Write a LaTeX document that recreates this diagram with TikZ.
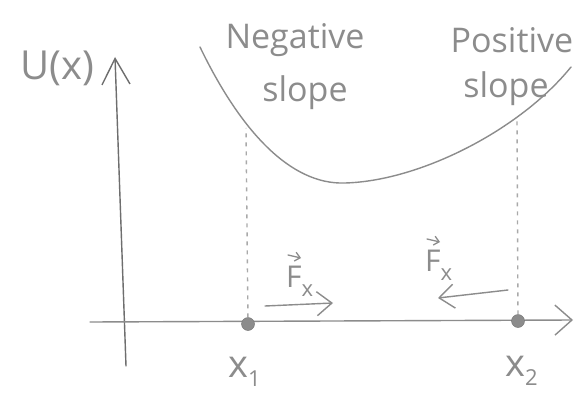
\documentclass[tikz,border=0pt]{standalone}
\usepackage{fontspec}
\setmainfont{Open Sans}
\usetikzlibrary{arrows.meta}
\definecolor{pen}{HTML}{8C8C8C}
\definecolor{pendark}{HTML}{6E6E6E}
\tikzset{
  hand/.style={draw=pen, line width=1.4pt, line cap=round},
  axisline/.style={draw=pendark, line width=1.4pt, line cap=round},
  guide/.style={draw=pen!75, line width=1.4pt, dash pattern=on 4pt off 5pt},
  lbl/.style={text=pen, font=\fontsize{34}{38}\selectfont, inner sep=0pt},
  dotnode/.style={circle, fill=pen, draw=pen!80!black, minimum size=13pt, inner sep=0pt},
  ytip/.style={-{Straight Barb[length=26pt, width=28pt, line width=1.4pt]}},
  xtip/.style={-{Straight Barb[length=17pt, width=30pt, line width=1.4pt]}},
  ftip/.style={-{Straight Barb[length=15pt, width=24pt, line width=1.4pt]}},
  vtip/.style={draw=pen, line width=1.3pt, line cap=round, -{Straight Barb[length=5pt, width=9pt, line width=1.3pt]}}
}
\newcommand{\subtxt}[1]{\raisebox{-9pt}{\fontsize{22}{22}\selectfont #1}}
\begin{document}
\begin{tikzpicture}[x=1pt,y=-1pt]
\useasboundingbox (0,0) rectangle (586,393);
\fill[white] (0,0) rectangle (586,393);
% axes
\coordinate (ybot) at (126,366);
\coordinate (ytop) at (115,57);
\coordinate (xleft) at (90,322);
\coordinate (xright) at (573,320);
\draw[axisline, ytip] (ybot) -- (ytop);
\draw[hand, xtip] (xleft) -- (xright);
% dots
\node[dotnode] (d1) at (248,324) {};
\node[dotnode] (d2) at (518,321) {};
% curve
\coordinate (cs) at (200,47);
\coordinate (cm) at (345,183);
\coordinate (ce) at (571,67);
\coordinate (c1) at (246,128);
\coordinate (c2) at (517,117);
\draw[hand] (cs) .. controls (240,130) and (290,185) .. (cm)
                 .. controls (420,181) and (520,130) .. (ce);
% guides
\draw[guide] (d1) -- (c1);
\draw[guide] (d2) -- (c2);
% labels
\node[lbl, font=\fontsize{40}{44}\selectfont] (U) at (57,68) {U(x)};
\node[lbl] (neg) at (295,40) {Negative};
\node[lbl] (negs) at (305,93) {slope};
\node[lbl] (pos) at (512,40) {Positive};
\node[lbl] (poss) at (506,89) {slope};
\node[lbl, font=\fontsize{38}{40}\selectfont, anchor=base west] (x1) at (228,377) {x\subtxt{1}};
\node[lbl, font=\fontsize{38}{40}\selectfont, anchor=base west] (x2) at (505,376) {x\subtxt{2}};
\node[lbl, font=\fontsize{30}{32}\selectfont, anchor=base west] (F1) at (286,287) {F\subtxt{x}};
\node[lbl, font=\fontsize{30}{32}\selectfont, anchor=base west] (F2) at (425,271) {F\subtxt{x}};
% vector arrows over F
\coordinate (v1s) at (288,255);
\coordinate (v1e) at (301,258);
\coordinate (v2s) at (427,239);
\coordinate (v2e) at (440,242);
\draw[vtip] (v1s) -- (v1e);
\draw[vtip] (v2s) -- (v2e);
% force arrows
\coordinate (a1s) at (265,306);
\coordinate (a1e) at (333,303);
\coordinate (a2s) at (508,290);
\coordinate (a2e) at (438,298);
\draw[hand, ftip] (a1s) -- (a1e);
\draw[hand, ftip] (a2s) -- (a2e);
\end{tikzpicture}
\end{document}
